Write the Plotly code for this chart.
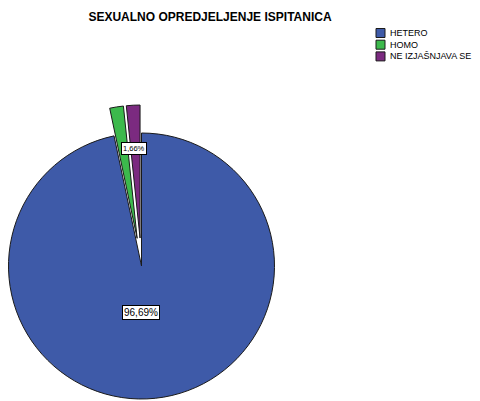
import numpy as np
import plotly.graph_objects as go

labels = ["HETERO", "HOMO", "NE IZJAŠNJAVA SE"]
values = [96.69, 1.66, 1.65]
pct_text = ["96,69%", "", "1,66%"]
exploded = [False, True, True]
colors = ["#3e5aa8", "#3cb94c", "#7b2a80"]

W, H = 480, 401
cx, cy, r = 141.5, 266, 133   # pie centre / radius in px
pull_px = 28                  # how far exploded slices move out
clear = "rgba(0,0,0,0)"


def domain_at(x0, y0):
    return dict(x=[(x0 - r) / W, (x0 + r) / W],
                y=[(H - y0 - r) / H, (H - y0 + r) / H])


fig = go.Figure()

# main pie: only the non-exploded slices are painted
fig.add_trace(go.Pie(
    labels=labels, values=values, sort=False, direction="clockwise", rotation=0,
    marker=dict(colors=[c if not e else clear for c, e in zip(colors, exploded)],
                line=dict(color="#1a1a1a", width=[0 if e else 1 for e in exploded])),
    textinfo="none", showlegend=False, domain=domain_at(cx, cy),
))

# exploded slices, each shifted along its bisector
total = sum(values)
start = np.concatenate([[0], np.cumsum(values)[:-1]]) / total * 360
mid = np.radians(start + np.array(values) / total * 180)
for i, e in enumerate(exploded):
    if not e:
        continue
    dx = pull_px * np.sin(mid[i])
    dy = pull_px * np.cos(mid[i])
    fig.add_trace(go.Pie(
        labels=labels, values=values, sort=False, direction="clockwise", rotation=0,
        marker=dict(colors=[c if j == i else clear for j, c in enumerate(colors)],
                    line=dict(color="#1a1a1a", width=[1 if j == i else 0 for j in range(len(colors))])),
        textinfo="none", showlegend=False, domain=domain_at(cx + dx, cy - dy),
    ))

# value labels in white boxes
label_pos = {0: (141, 312, 10), 2: (134, 148, 7.5)}
for i, (px, py, fs) in label_pos.items():
    fig.add_annotation(x=px / W, y=1 - py / H, xref="paper", yref="paper",
                       xanchor="center", yanchor="middle",
                       text=pct_text[i], showarrow=False,
                       font=dict(family="Liberation Sans", size=fs, color="black"),
                       bgcolor="white", bordercolor="black", borderwidth=1, borderpad=1)

# legend drawn as small boxes + text
for i, (lab, col) in enumerate(zip(labels, colors)):
    yc = 33 + 11.7 * i
    fig.add_shape(type="rect", xref="paper", yref="paper",
                  x0=376 / W, x1=385 / W, y0=1 - (yc - 4.5) / H, y1=1 - (yc + 4.5) / H,
                  fillcolor=col, line=dict(color="#1a1a1a", width=1))
    fig.add_annotation(x=388 / W, y=1 - yc / H, xref="paper", yref="paper",
                       text=lab, showarrow=False, xanchor="left", yanchor="middle",
                       font=dict(family="Liberation Sans", size=9, color="black"))

fig.update_layout(
    width=W, height=H,
    margin=dict(l=0, r=0, t=0, b=0),
    paper_bgcolor="white", plot_bgcolor="white",
    title=dict(text="SEXUALNO OPREDJELJENJE ISPITANICA", x=210 / W, xanchor="center",
               y=1 - 17 / H, yanchor="middle",
               font=dict(family="Liberation Sans", size=12, color="black", weight="bold")),
)

# the page body has a default 8px margin; drop it so the figure sits at 0,0
fig.write_html("out.html", config={"displayModeBar": False},
               post_script="document.body.style.margin='0';")
